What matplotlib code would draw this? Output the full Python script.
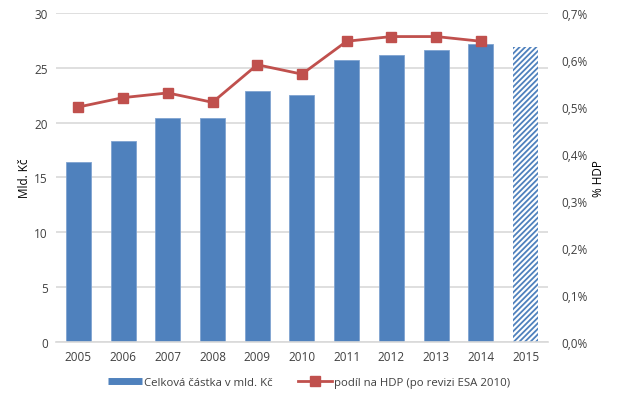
import numpy as np
import matplotlib.pyplot as plt
from matplotlib.lines import Line2D
from matplotlib.ticker import FuncFormatter

# Data
years = ["2005", "2006", "2007", "2008", "2009", "2010",
         "2011", "2012", "2013", "2014", "2015"]
amount = [16.4, 18.3, 20.4, 20.4, 22.9, 22.5, 25.7, 26.2, 26.6, 27.2, 26.9]
gdp_share = [0.50, 0.52, 0.53, 0.51, 0.59, 0.57, 0.64, 0.65, 0.65, 0.64]

blue = "#4F81BD"
red = "#C0504D"
grid = "#D9D9D9"
txt = "#404040"

plt.rcParams['font.family'] = ['Open Sans', 'DejaVu Sans']
plt.rcParams['hatch.linewidth'] = 1.3

fig = plt.figure(figsize=(6.18, 4.02), dpi=100)
ax = fig.add_axes([0.0906, 0.147, 0.796, 0.818])
x = np.arange(len(years))

# Bars: last one (2015) hatched estimate
ax.bar(x[:-1], amount[:-1], width=0.56, color=blue, edgecolor="#7FA3D0", linewidth=0.6, zorder=2)
ax.bar(x[-1], amount[-1], width=0.56, color="white", edgecolor=blue, hatch="//////", linewidth=0, zorder=2)

ax.set_ylim(0, 30)
ax.set_yticks(range(0, 31, 5))
ax.set_xlim(-0.5, len(years) - 0.5)
ax.set_xticks(x)
ax.set_xticklabels(years)
ax.yaxis.grid(True, color=grid, linewidth=1.2, zorder=0)
ax.set_axisbelow(True)
for s in ["top", "right", "left"]:
    ax.spines[s].set_visible(False)
ax.spines["bottom"].set_color(grid)
ax.spines["bottom"].set_linewidth(1.2)
ax.tick_params(axis="both", length=0, labelsize=8.5, colors=txt, pad=6)
ax.set_ylabel("Mld. Kč", fontsize=8.5, color="black", labelpad=2)

# Secondary axis for GDP share
ax2 = ax.twinx()
ax2.plot(x[:-1], gdp_share, color=red, linewidth=2, marker="s", markersize=7,
         markeredgecolor=red, zorder=3)
ax2.set_ylim(0, 0.7)
ax2.set_yticks(np.arange(0, 0.71, 0.1))
ax2.yaxis.set_major_formatter(FuncFormatter(lambda v, p: f"{v:.1f}%".replace(".", ",")))
for s in ["top", "right", "left", "bottom"]:
    ax2.spines[s].set_visible(False)
ax2.tick_params(axis="y", length=0, labelsize=8.5, colors=txt, pad=10)
ax2.set_ylabel("% HDP", fontsize=8.5, color="black", labelpad=3)

handles = [
    Line2D([0], [0], color=blue, linewidth=5, solid_capstyle="butt"),
    Line2D([0], [0], color=red, linewidth=2, marker="s", markersize=7),
]
labels = ["Celková částka v mld. Kč", "podíl na HDP (po revizi ESA 2010)"]
fig.legend(handles, labels, loc="center", bbox_to_anchor=(0.5, 0.045), ncol=2,
           frameon=False, fontsize=8.2, handlelength=3.0, handletextpad=0.2,
           columnspacing=2.2, labelcolor=txt)

fig.savefig("out.png", dpi=100)
